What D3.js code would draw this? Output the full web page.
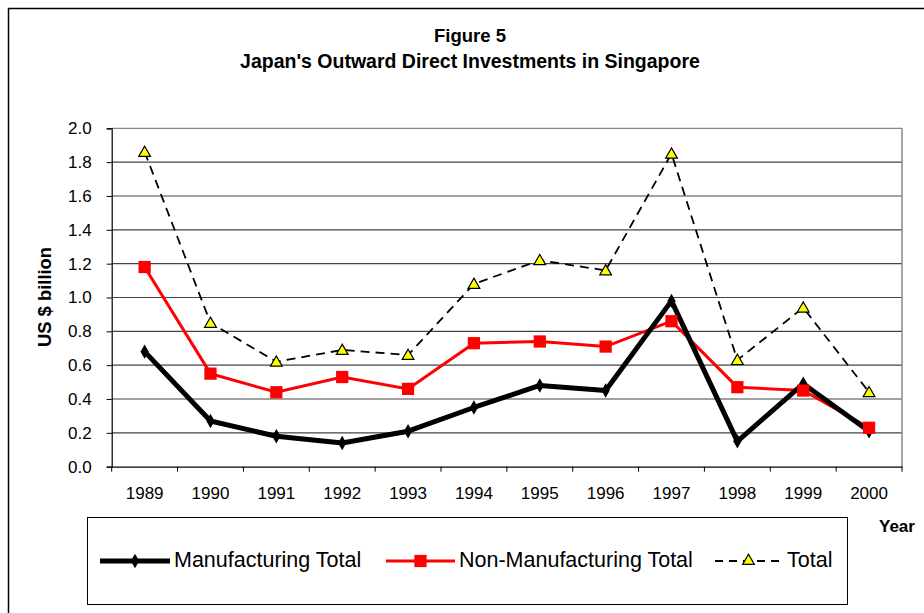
<!DOCTYPE html>
<html>
<head>
<meta charset="utf-8">
<script src="https://cdn.jsdelivr.net/npm/d3@7"></script>
<style>
  body { margin: 0; background: #fff; }
  svg { display: block; font-family: "Liberation Sans", Arial, sans-serif; }
</style>
</head>
<body>
<svg id="chart" width="924" height="613"></svg>
<script>
// data (US $ billion)
var years = ["1989","1990","1991","1992","1993","1994","1995","1996","1997","1998","1999","2000"];
var manufacturing = [0.68, 0.27, 0.18, 0.14, 0.21, 0.35, 0.48, 0.45, 0.98, 0.15, 0.49, 0.21];
var nonManufacturing = [1.18, 0.55, 0.44, 0.53, 0.46, 0.73, 0.74, 0.71, 0.86, 0.47, 0.45, 0.23];
var total = [1.86, 0.85, 0.62, 0.69, 0.66, 1.08, 1.22, 1.16, 1.85, 0.63, 0.94, 0.44];
var yTicks = [0, 0.2, 0.4, 0.6, 0.8, 1.0, 1.2, 1.4, 1.6, 1.8, 2.0];

var svg = d3.select("#chart");

// outer chart frame (runs past the window on right/bottom)
svg.append("rect")
  .attr("x", 8.5).attr("y", 8.5)
  .attr("width", 940).attr("height", 640)
  .attr("fill", "none").attr("stroke", "#000").attr("stroke-width", 1.5);

var pLeft = 111.7, pRight = 902, pTop = 128.3, pBottom = 466.7;

var x = d3.scaleBand().domain(years).range([pLeft, pRight]).padding(0);
var y = d3.scaleLinear().domain([0, 2]).range([pBottom, pTop]);
var cx = function(d, i) { return x(years[i]) + x.bandwidth() / 2; };

// title
svg.append("text").attr("x", 470).attr("y", 42)
  .attr("text-anchor", "middle").attr("font-weight", "bold").attr("font-size", 18.5)
  .text("Figure 5");
svg.append("text").attr("x", 470).attr("y", 68)
  .attr("text-anchor", "middle").attr("font-weight", "bold").attr("font-size", 19.5)
  .text("Japan's Outward Direct Investments in Singapore");

// gridlines
svg.append("g").selectAll("line")
  .data(yTicks.filter(function(t) { return t > 0; }))
  .join("line")
  .attr("x1", pLeft).attr("x2", pRight)
  .attr("y1", function(d) { return y(d); }).attr("y2", function(d) { return y(d); })
  .attr("stroke", function(d) { return d === 2 ? "#888" : "#444"; }).attr("stroke-width", 1.2);

// right border of plot area
svg.append("line").attr("x1", pRight).attr("x2", pRight).attr("y1", pTop).attr("y2", pBottom)
  .attr("stroke", "#888").attr("stroke-width", 1.5);

// axes
var yAxis = svg.append("g").attr("transform", "translate(" + pLeft + ",0)")
  .call(d3.axisLeft(y).tickValues(yTicks).tickFormat(d3.format(".1f")).tickSize(5).tickPadding(15));
var xAxis = svg.append("g").attr("transform", "translate(0," + pBottom + ")")
  .call(d3.axisBottom(x).tickSize(0).tickPadding(20));
// x tick marks sit on band edges
xAxis.selectAll(".edge").data(years.concat(["end"])).join("line")
  .attr("class", "edge")
  .attr("x1", function(d, i) { return pLeft + i * x.bandwidth(); })
  .attr("x2", function(d, i) { return pLeft + i * x.bandwidth(); })
  .attr("y1", 0).attr("y2", 5).attr("stroke", "#000");
[yAxis, xAxis].forEach(function(a) {
  a.select(".domain").attr("stroke", "#000").attr("stroke-width", 1.2);
  a.selectAll("text").attr("font-size", 17).attr("fill", "#000").attr("font-family", "Liberation Sans, Arial, sans-serif");
});

// axis titles
svg.append("text")
  .attr("transform", "translate(51,297) rotate(-90)")
  .attr("text-anchor", "middle").attr("font-weight", "bold").attr("font-size", 18.4)
  .text("US $ billion");
svg.append("text").attr("x", 879).attr("y", 532)
  .attr("font-weight", "bold").attr("font-size", 17).text("Year");

var line = d3.line().x(cx).y(function(d) { return y(d); });

// Total (dashed, yellow triangles)
svg.append("path").datum(total).attr("d", line)
  .attr("fill", "none").attr("stroke", "#000").attr("stroke-width", 1.8)
  .attr("stroke-dasharray", "9,6");
// Non-Manufacturing (red squares)
svg.append("path").datum(nonManufacturing).attr("d", line)
  .attr("fill", "none").attr("stroke", "#ff0000").attr("stroke-width", 3);
// Manufacturing (thick black, diamonds)
svg.append("path").datum(manufacturing).attr("d", line)
  .attr("fill", "none").attr("stroke", "#000").attr("stroke-width", 5)
  .attr("stroke-linejoin", "round");

var tri = d3.symbol().type(d3.symbolTriangle).size(60);
var sq = d3.symbol().type(d3.symbolSquare).size(150);
var dia = d3.symbol().type(d3.symbolDiamond).size(60);

svg.append("g").selectAll("path").data(manufacturing).join("path")
  .attr("transform", function(d, i) { return "translate(" + cx(d, i) + "," + y(d) + ")"; })
  .attr("d", dia).attr("fill", "#000");
svg.append("g").selectAll("path").data(nonManufacturing).join("path")
  .attr("transform", function(d, i) { return "translate(" + cx(d, i) + "," + y(d) + ")"; })
  .attr("d", sq).attr("fill", "#ff0000");
svg.append("g").selectAll("path").data(total).join("path")
  .attr("transform", function(d, i) { return "translate(" + cx(d, i) + "," + (y(d) + 1) + ")"; })
  .attr("d", tri).attr("fill", "#ffff00").attr("stroke", "#000").attr("stroke-width", 1.2);

// legend
var legend = svg.append("g");
legend.append("rect").attr("x", 87.5).attr("y", 517.5).attr("width", 760).attr("height", 87)
  .attr("fill", "#fff").attr("stroke", "#000").attr("stroke-width", 1);

var items = [
  {label: "Manufacturing Total", x1: 100, x2: 170, tx: 174, stroke: "#000", w: 5, dash: null, sym: dia, fill: "#000"},
  {label: "Non-Manufacturing Total", x1: 386, x2: 455, tx: 459, stroke: "#ff0000", w: 3, dash: null, sym: sq, fill: "#ff0000"},
  {label: "Total", x1: 715, x2: 782, tx: 787, stroke: "#000", w: 2, dash: "8,6", sym: tri, fill: "#ffff00"}
];
var ly = 561;
items.forEach(function(it) {
  legend.append("line").attr("x1", it.x1).attr("x2", it.x2).attr("y1", ly).attr("y2", ly)
    .attr("stroke", it.stroke).attr("stroke-width", it.w).attr("stroke-dasharray", it.dash);
  legend.append("path").attr("transform", "translate(" + ((it.x1 + it.x2) / 2) + "," + ly + ")")
    .attr("d", it.sym).attr("fill", it.fill)
    .attr("stroke", it.sym === tri ? "#000" : null).attr("stroke-width", 1.2);
  legend.append("text").attr("x", it.tx).attr("y", 567).attr("font-size", 21.5).text(it.label);
});
</script>
</body>
</html>
